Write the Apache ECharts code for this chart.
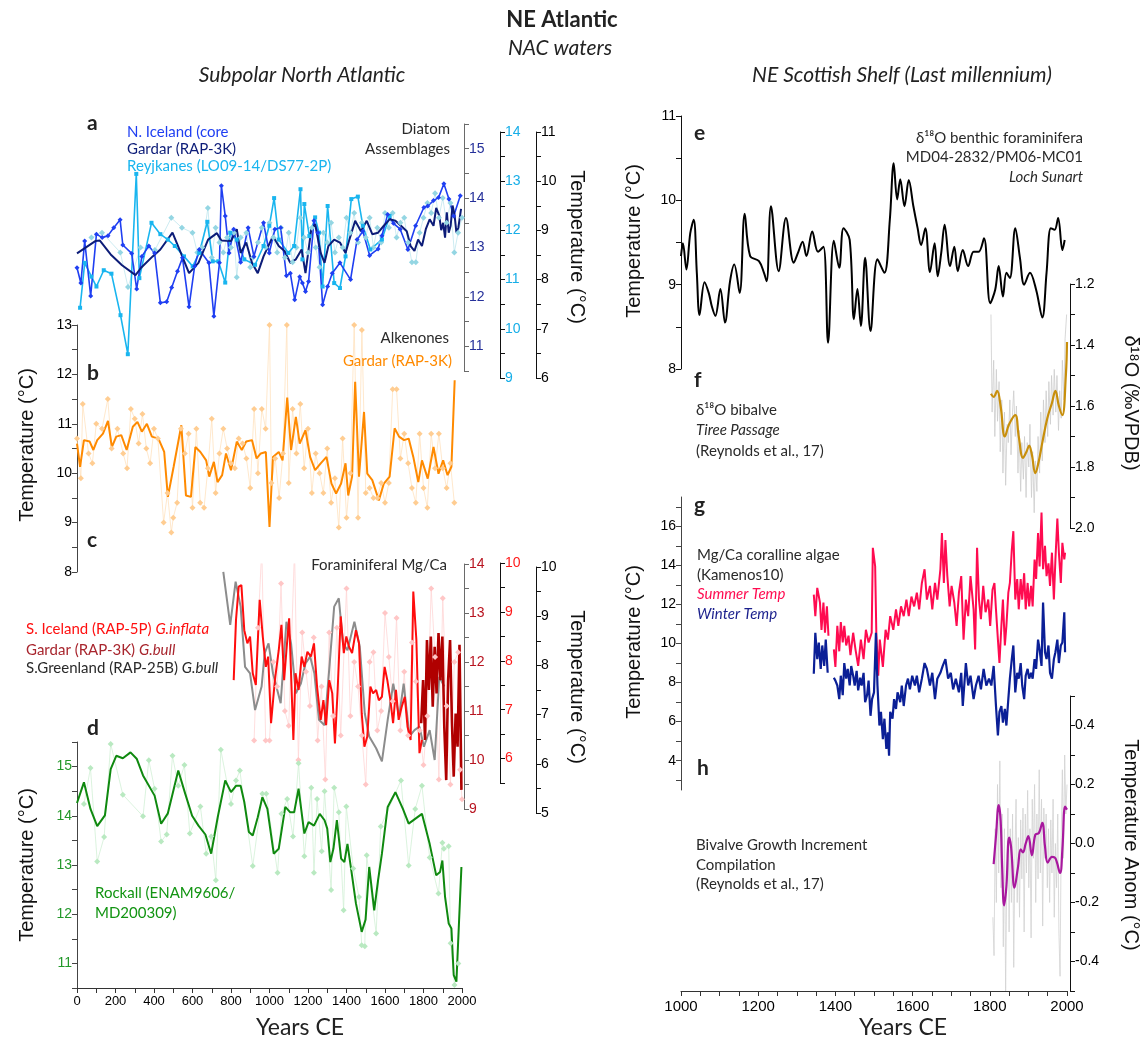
<!DOCTYPE html>
<html><head><meta charset="utf-8">
<script src="https://cdn.jsdelivr.net/npm/echarts@6.0.0/dist/echarts.min.js"></script>
<style>html,body{margin:0;padding:0;background:#fff}#c{width:1143px;height:1040px}</style>
</head><body><div id="c"></div>
<script>
// ---------------- DATA ----------------
// Panel a (Diatom assemblages), values on dark-blue axis (10.5-15.5)
const aGardar = [[0,12.88],[95,13.13],[119,13.14],[175,12.86],[234,12.64],[304,12.44],[333,12.59],[393,12.82],[433,12.96],[496,13.30],[532,12.96],[582,12.48],[631,12.69],[681,13.16],[727,13.29],[750,13.14],[800,13.13],[830,13.37],[850,12.89],[879,13.1],[909,12.69],[939,12.48],[969,12.82],[989,12.99],[1018,13.23],[1048,13.03],[1078,12.93],[1108,12.69],[1137,12.76],[1167,12.96],[1187,12.48],[1217,13.37],[1237,13.47],[1266,12.89],[1286,12.69],[1306,13.03],[1336,13.16],[1366,13.1],[1395,12.89],[1415,13.16],[1445,13.54],[1475,13.33],[1505,13.54],[1534,13.27],[1564,13.3],[1594,13.44],[1624,13.57],[1654,13.54],[1683,13.44],[1713,13.33],[1733,13.03],[1753,12.93],[1772,13.16],[1792,13.03],[1812,13.37],[1832,13.57],[1852,13.44],[1866,13.8],[1882,13.64],[1892,13.35],[1902,13.5],[1912,13.2],[1921,13.71],[1931,13.3],[1941,13.44],[1951,13.85],[1961,13.67],[1971,13.3],[1981,13.4],[1995,13.78]];
const aIceland = [[0,12.59],[20,12.28],[40,13.13],[71,12.02],[101,13.27],[131,13.2],[161,13.24],[191,13.4],[224,13.56],[238,13.05],[284,12.88],[310,12.16],[337,12.82],[373,13.03],[403,12.89],[433,11.88],[466,11.9],[492,12.19],[522,12.52],[548,12.79],[582,11.8],[611,12.62],[635,12.96],[685,12.69],[711,11.61],[740,12.69],[750,14.25],[770,13.64],[790,12.89],[814,13.37],[850,12.7],[889,13.4],[919,12.82],[969,13.5],[999,12.89],[1028,13.37],[1058,13.4],[1088,12.43],[1108,12.48],[1131,11.94],[1157,12.41],[1171,12.28],[1187,12.11],[1203,12.31],[1231,13.54],[1251,13.3],[1276,11.84],[1302,12.21],[1326,12.48],[1366,12.69],[1421,12.35],[1455,13.16],[1485,13.33],[1520,12.84],[1564,12.97],[1584,13.24],[1614,13.67],[1644,13.49],[1679,13.37],[1719,12.96],[1759,13.44],[1802,13.81],[1822,13.84],[1852,13.95],[1878,14.01],[1906,14.29],[1932,13.98],[1957,13.64],[1991,14.05]];
const aReykjanes = [[16,11.78],[40,12.69],[75,12.41],[101,12.21],[139,12.54],[179,12.47],[226,11.63],[264,10.84],[308,14.49],[324,12.38],[387,13.5],[433,13.27],[472,13.16],[508,13.03],[556,12.82],[601,12.62],[635,12.89],[677,13.52],[705,12.72],[734,12.72],[770,12.29],[796,13.3],[830,13.16],[869,12.76],[925,12.65],[969,13.03],[999,13.44],[1024,14.0],[1048,13.16],[1098,12.89],[1128,13.03],[1161,14.18],[1171,12.76],[1181,13.88],[1207,13.23],[1237,13.61],[1257,13.3],[1276,12.21],[1302,13.84],[1336,12.28],[1366,12.18],[1395,12.82],[1425,13.98],[1459,14.03],[1485,13.44],[1524,12.96],[1584,13.16],[1624,13.64]];
const aBackground = [[75,13.2],[130,13.3],[225,12.9],[265,12.2],[330,13.0],[405,12.95],[490,13.6],[545,13.4],[600,13.3],[625,12.9],[650,13.0],[680,13.8],[700,12.8],[720,13.4],[740,13.1],[760,12.9],[780,13.2],[800,13.0],[815,13.3],[830,12.4],[850,13.2],[880,13.3],[900,12.6],[915,12.8],[940,13.1],[960,13.4],[980,13.0],[1000,13.5],[1020,13.2],[1040,12.9],[1060,13.4],[1080,12.8],[1100,13.3],[1120,12.7],[1140,13.0],[1160,13.6],[1180,13.2],[1200,12.9],[1220,13.4],[1240,13.0],[1260,12.6],[1280,13.3],[1300,13.1],[1320,13.5],[1340,12.9],[1360,13.2],[1380,13.0],[1400,13.6],[1420,13.3],[1440,13.7],[1460,13.1],[1480,13.5],[1500,13.2],[1520,13.6],[1540,13.0],[1560,13.4],[1580,13.1],[1600,13.7],[1620,13.4],[1640,13.7],[1660,13.2],[1680,13.5],[1700,13.6],[1720,13.1],[1740,12.7],[1760,12.7],[1780,13.3],[1800,13.6],[1820,13.9],[1840,13.7],[1860,14.1],[1880,13.6],[1900,14.0],[1920,13.5],[1940,13.9],[1960,12.9],[1980,13.3],[2000,13.6]];

// Panel b (Alkenones, Gardar RAP-3K)
const bMain = [[0,10.6],[16,10.13],[36,10.67],[66,10.64],[85,10.47],[105,10.67],[135,10.8],[161,11.06],[181,10.53],[204,10.74],[230,10.77],[258,10.47],[290,10.94],[314,11.04],[337,10.84],[363,11.0],[389,10.74],[423,10.7],[453,10.43],[472,9.52],[502,10.13],[542,10.97],[566,9.55],[592,9.52],[615,10.53],[641,10.43],[671,10.26],[687,9.93],[711,10.23],[730,9.82],[754,9.96],[774,10.4],[800,10.06],[830,10.64],[856,10.47],[879,10.64],[909,10.67],[933,10.3],[955,10.4],[981,10.43],[1000,8.91],[1018,10.33],[1048,10.43],[1068,10.26],[1092,11.53],[1112,10.47],[1137,11.14],[1157,10.6],[1187,10.87],[1211,10.33],[1237,10.06],[1266,10.2],[1296,10.33],[1322,9.79],[1346,9.59],[1372,9.79],[1395,10.2],[1409,9.55],[1429,9.93],[1445,11.85],[1465,9.93],[1491,11.24],[1508,9.99],[1534,9.86],[1568,9.45],[1594,9.79],[1624,9.93],[1650,10.91],[1673,10.74],[1699,10.67],[1723,10.7],[1747,10.33],[1773,9.82],[1792,10.26],[1822,9.89],[1852,10.53],[1878,9.99],[1902,10.26],[1925,9.96],[1945,10.13],[1962,11.88]];
const bRaw = [[0,10.7],[20,9.9],[30,11.4],[60,10.4],[80,10.2],[100,11.0],[130,10.9],[160,11.5],[180,10.5],[210,10.9],[240,10.4],[260,10.1],[280,11.3],[300,11.1],[320,10.6],[340,11.2],[360,10.5],[380,10.2],[400,10.9],[420,10.7],[450,9.0],[470,9.6],[490,8.8],[500,9.1],[520,9.4],[540,10.9],[560,10.4],[580,10.8],[600,9.3],[620,10.9],[640,9.4],[660,9.3],[680,10.1],[700,11.1],[720,9.6],[740,10.4],[760,10.9],[780,10.5],[800,10.2],[820,10.1],[840,10.7],[860,10.6],[880,10.3],[900,9.7],[920,11.3],[940,10.0],[960,11.3],[980,10.9],[1000,13.0],[1010,9.8],[1030,10.3],[1050,9.5],[1070,10.4],[1090,13.0],[1100,9.8],[1120,11.3],[1140,10.4],[1160,11.4],[1180,10.1],[1200,10.9],[1220,9.6],[1240,10.4],[1260,10.0],[1280,9.6],[1300,10.5],[1320,9.4],[1340,9.9],[1360,8.9],[1380,10.7],[1400,9.1],[1420,10.0],[1440,13.0],[1460,9.1],[1480,12.9],[1500,9.6],[1520,9.7],[1540,9.5],[1560,9.5],[1580,9.8],[1600,9.4],[1620,9.8],[1640,11.7],[1660,11.7],[1680,10.3],[1700,10.8],[1720,10.2],[1740,9.7],[1760,9.4],[1780,10.8],[1800,9.7],[1820,9.3],[1840,10.8],[1860,10.1],[1880,10.8],[1900,10.1],[1920,9.7],[1940,10.2],[1960,9.4]];

// Panel c (Foraminiferal Mg/Ca), values on dark-red axis (9-14)
const cGreenland = [[760,13.84],[796,12.76],[824,13.64],[850,13.13],[873,11.9],[899,11.77],[925,11.02],[959,11.5],[975,12.18],[995,12.38],[1018,11.77],[1058,11.16],[1088,12.82],[1112,12.38],[1137,11.36],[1163,11.56],[1187,11.97],[1211,12.11],[1233,11.77],[1257,10.82],[1286,10.71],[1310,11.84],[1336,13.13],[1360,13.3],[1382,12.38],[1405,12.24],[1441,12.82],[1469,12.31],[1495,10.95],[1518,10.48],[1554,10.24],[1584,9.97],[1614,10.82],[1643,11.56],[1673,10.88],[1697,11.56],[1727,10.48],[1753,10.61],[1779,10.68],[1802,10.27],[1832,10.61],[1858,10.0],[1882,11.7],[1908,11.5]];
const cIceland = [[814,11.63],[826,12.86],[840,13.54],[854,13.57],[869,12.65],[885,12.38],[899,12.52],[913,11.77],[929,11.53],[949,13.27],[965,12.52],[981,11.9],[993,12.11],[1008,10.75],[1028,11.63],[1048,12.24],[1062,12.76],[1076,11.63],[1088,12.24],[1102,12.89],[1124,10.41],[1135,11.77],[1151,11.43],[1167,12.11],[1181,11.9],[1197,12.21],[1215,12.11],[1231,12.38],[1247,11.5],[1266,10.82],[1280,11.22],[1294,10.71],[1310,11.63],[1326,11.36],[1340,10.34],[1354,11.43],[1370,12.93],[1386,12.18],[1399,12.52],[1413,12.31],[1429,12.18],[1449,12.65],[1465,12.38],[1479,10.95],[1493,10.27],[1508,10.48],[1524,11.5],[1538,11.36],[1554,11.43],[1568,11.22],[1584,11.29],[1598,11.9],[1612,11.63],[1628,11.22],[1642,10.75],[1657,11.43],[1671,10.82],[1687,11.09],[1703,11.29],[1717,10.68],[1733,10.41],[1747,13.44],[1763,12.45],[1779,10.14],[1792,10.41]];
const cGardar = [[1788,10.75],[1798,11.63],[1808,10.41],[1818,12.45],[1828,11.43],[1838,12.52],[1848,11.09],[1858,12.31],[1868,11.36],[1878,12.59],[1888,11.63],[1898,12.52],[1908,10.68],[1918,9.59],[1928,11.63],[1938,12.45],[1948,10.75],[1957,9.66],[1967,10.95],[1977,10.27],[1987,12.35],[1997,9.39]];
const cRaw = [[920,10.4],[940,12.7],[960,14.3],[980,10.4],[1000,10.4],[1020,12.0],[1040,11.5],[1060,13.6],[1080,11.0],[1100,10.7],[1130,14.3],[1150,10.0],[1170,12.6],[1190,11.8],[1210,11.1],[1230,12.5],[1250,10.4],[1270,11.5],[1290,9.6],[1310,12.6],[1330,10.9],[1350,12.7],[1370,10.5],[1400,13.5],[1420,10.9],[1440,12.0],[1460,11.5],[1480,10.5],[1500,9.5],[1520,12.0],[1540,12.2],[1560,10.6],[1580,11.0],[1600,13.0],[1620,12.1],[1640,11.2],[1660,12.9],[1680,10.6],[1700,11.8],[1720,10.5],[1740,12.4],[1760,11.6],[1780,10.6],[1800,9.9],[1820,10.9],[1840,13.5],[1860,12.1],[1880,9.6],[1900,13.3],[1920,11.1],[1940,9.5],[1960,12.0],[1980,12.2],[1990,9.8],[2000,9.2]];

// Panel d (Rockall)
const dMain = [[0,14.26],[36,14.68],[70,14.14],[105,13.79],[145,14.01],[175,14.95],[204,15.22],[238,15.17],[278,15.29],[310,15.16],[343,14.82],[403,14.41],[437,13.84],[472,14.05],[526,14.92],[562,14.45],[598,14.0],[631,13.8],[667,13.62],[697,13.23],[731,13.97],[770,14.72],[800,14.48],[826,14.61],[850,14.61],[869,14.28],[893,13.67],[913,13.6],[939,13.97],[963,14.38],[989,14.14],[1022,13.23],[1048,13.33],[1082,14.18],[1108,14.07],[1128,14.07],[1151,14.55],[1181,13.64],[1203,13.87],[1231,13.8],[1261,14.04],[1286,13.91],[1300,13.74],[1316,13.06],[1332,13.33],[1350,13.91],[1372,13.13],[1389,13.06],[1405,13.43],[1425,12.89],[1449,12.22],[1479,11.64],[1499,11.89],[1518,12.96],[1544,12.08],[1564,12.69],[1584,13.23],[1614,14.18],[1654,14.48],[1693,14.14],[1723,13.84],[1792,14.04],[1832,13.43],[1866,12.79],[1886,12.86],[1898,13.09],[1912,12.35],[1931,11.81],[1945,11.71],[1957,10.76],[1971,10.63],[1997,12.96]];
const dRaw = [[36,14.24],[70,14.97],[105,13.07],[141,13.57],[175,15.46],[238,14.43],[343,13.99],[373,15.13],[403,14.55],[437,13.48],[466,13.62],[496,15.22],[526,14.61],[558,15.03],[586,13.64],[641,14.19],[671,13.23],[697,13.58],[721,12.69],[747,15.34],[800,14.24],[826,14.72],[846,14.92],[913,12.98],[963,14.45],[983,14.45],[1042,12.84],[1062,14.04],[1092,14.34],[1122,13.58],[1151,15.07],[1181,13.18],[1217,14.57],[1231,12.84],[1247,14.34],[1271,13.28],[1286,14.5],[1320,12.49],[1336,14.57],[1360,14.07],[1385,12.08],[1399,14.19],[1435,12.93],[1465,12.35],[1479,11.37],[1495,11.35],[1505,13.2],[1554,11.61],[1578,13.78],[1683,14.72],[1723,12.99],[1757,14.14],[1792,14.61],[1832,13.15],[1878,12.42],[1898,13.45],[1906,13.33],[1931,13.38],[1941,11.41],[1961,10.56],[1981,11.0]];

// Panel e (Loch Sunart benthic foraminifera)
const eMain = [[1000,9.34],[1005,9.49],[1014,9.18],[1024,9.61],[1033,9.77],[1041,9.14],[1048,8.64],[1061,9.03],[1072,8.9],[1080,8.74],[1089,8.63],[1102,8.95],[1114,8.55],[1127,9.04],[1138,9.24],[1152,8.9],[1165,9.84],[1179,9.34],[1202,9.28],[1215,9.14],[1222,9.04],[1233,9.93],[1253,9.16],[1272,9.79],[1292,9.26],[1304,9.39],[1315,9.51],[1325,9.34],[1340,9.63],[1355,9.39],[1369,9.45],[1381,8.31],[1396,9.52],[1410,9.2],[1421,9.67],[1437,9.53],[1448,8.59],[1457,8.95],[1466,8.51],[1477,9.32],[1491,8.45],[1509,9.3],[1527,9.14],[1541,9.77],[1551,10.44],[1560,10.01],[1568,10.25],[1579,9.93],[1590,10.24],[1602,9.93],[1613,9.67],[1622,9.47],[1633,9.67],[1645,9.15],[1657,9.49],[1665,9.1],[1674,9.37],[1683,9.71],[1697,9.22],[1708,9.45],[1717,9.16],[1730,9.41],[1744,9.22],[1758,9.39],[1771,9.39],[1785,9.55],[1801,8.78],[1814,8.94],[1823,9.22],[1834,8.86],[1843,9.14],[1852,9.08],[1866,9.67],[1878,9.32],[1889,9.0],[1904,9.14],[1920,8.94],[1936,8.61],[1947,9.14],[1958,9.67],[1968,9.65],[1977,9.79],[1988,9.41],[1994,9.53]];

// Panel f (δ18O bivalve, Tiree Passage)
const fSmooth = [[1803,1.56],[1810,1.57],[1819,1.55],[1828,1.60],[1839,1.70],[1850,1.66],[1866,1.63],[1875,1.70],[1886,1.77],[1895,1.75],[1902,1.73],[1909,1.76],[1918,1.82],[1927,1.78],[1936,1.72],[1949,1.64],[1961,1.59],[1970,1.55],[1979,1.60],[1988,1.63],[1997,1.50],[2000,1.39]];
const fRaw = [[1803,1.30],[1806,1.62],[1810,1.45],[1813,1.70],[1817,1.48],[1820,1.65],[1824,1.52],[1827,1.75],[1831,1.58],[1834,1.82],[1838,1.62],[1841,1.86],[1845,1.66],[1848,1.72],[1852,1.58],[1855,1.76],[1859,1.62],[1862,1.55],[1866,1.70],[1869,1.60],[1873,1.82],[1876,1.68],[1880,1.88],[1883,1.72],[1887,1.84],[1890,1.70],[1894,1.90],[1897,1.72],[1901,1.80],[1904,1.66],[1908,1.90],[1911,1.75],[1915,1.95],[1918,1.78],[1922,1.88],[1925,1.70],[1929,1.82],[1932,1.62],[1936,1.78],[1939,1.58],[1943,1.72],[1946,1.55],[1950,1.70],[1953,1.52],[1957,1.66],[1960,1.50],[1964,1.63],[1967,1.48],[1971,1.62],[1974,1.50],[1978,1.68],[1981,1.55],[1985,1.64],[1988,1.45],[1992,1.58],[1995,1.38],[1999,1.30]];

// Panel g (Mg/Ca coralline algae)
const gSummer = [[1344,12.5],[1348,11.4],[1353,12.85],[1360,12.1],[1364,10.7],[1369,12.1],[1373,10.55],[1378,11.9],[1382,10.4],[1389,'-'],[1396,9.7],[1400,8.8],[1405,10.9],[1410,9.6],[1414,11.1],[1419,10.05],[1423,10.9],[1428,9.9],[1434,10.4],[1439,9.4],[1446,10.55],[1452,9.7],[1459,8.85],[1466,10.2],[1473,9.2],[1479,10.7],[1486,10.05],[1494,10.55],[1497,14.9],[1503,13.95],[1506,10.55],[1511,8.35],[1515,10.2],[1523,8.8],[1530,10.7],[1536,10.2],[1542,11.4],[1550,10.7],[1557,11.75],[1563,10.9],[1570,11.9],[1577,11.4],[1584,12.25],[1590,11.4],[1597,12.4],[1604,11.9],[1611,12.6],[1617,11.75],[1624,13.1],[1631,13.8],[1637,12.25],[1645,12.95],[1651,11.75],[1658,13.1],[1664,12.25],[1672,13.8],[1676,15.65],[1681,13.1],[1685,15.3],[1690,13.45],[1696,11.9],[1701,12.95],[1708,12.1],[1714,10.9],[1720,12.6],[1726,13.45],[1732,10.2],[1738,12.25],[1744,11.4],[1750,13.45],[1758,11.75],[1762,9.7],[1767,14.9],[1772,12.25],[1777,11.25],[1783,12.95],[1789,11.6],[1796,12.25],[1801,10.9],[1807,12.75],[1812,13.1],[1816,11.75],[1821,10.2],[1825,9.0],[1830,10.9],[1834,12.25],[1839,9.9],[1843,10.9],[1848,12.6],[1852,13.1],[1857,14.8],[1861,15.75],[1866,12.25],[1871,13.3],[1875,11.75],[1880,13.3],[1884,12.25],[1889,13.6],[1893,11.75],[1898,13.1],[1902,11.9],[1907,12.95],[1911,11.9],[1916,14.3],[1920,13.3],[1925,15.65],[1929,13.95],[1934,16.7],[1938,13.8],[1943,15.0],[1947,13.45],[1952,14.1],[1956,12.95],[1961,14.65],[1966,12.25],[1970,14.3],[1975,16.4],[1979,14.65],[1984,13.1],[1988,15.15],[1993,14.3],[1995,14.65]];
const gWinter = [[1344,8.45],[1348,10.55],[1353,9.2],[1357,10.05],[1362,8.7],[1366,9.9],[1371,8.85],[1375,10.2],[1380,8.5],[1388,'-'],[1396,8.25],[1400,8.1],[1405,7.85],[1410,7.15],[1414,8.35],[1419,7.35],[1423,9.0],[1428,8.2],[1432,8.7],[1437,7.85],[1441,8.85],[1446,8.35],[1450,7.85],[1455,8.6],[1459,7.6],[1464,8.25],[1468,7.85],[1473,8.5],[1477,7.0],[1482,7.35],[1486,8.1],[1491,6.3],[1495,7.15],[1500,7.5],[1505,10.55],[1509,7.85],[1514,5.8],[1518,6.5],[1523,5.1],[1527,6.15],[1532,4.6],[1536,5.45],[1539,4.25],[1542,6.5],[1548,6.15],[1552,7.15],[1557,6.65],[1561,7.5],[1568,7.0],[1572,7.85],[1577,6.8],[1583,7.85],[1588,8.2],[1593,7.65],[1599,8.35],[1606,7.85],[1611,8.35],[1617,7.5],[1624,8.2],[1631,9.0],[1637,8.7],[1645,7.85],[1651,8.5],[1658,7.15],[1664,8.2],[1672,8.5],[1678,8.85],[1685,9.2],[1692,8.2],[1699,8.5],[1705,7.65],[1712,8.2],[1720,7.5],[1726,8.5],[1730,6.8],[1738,9.0],[1744,7.85],[1750,8.35],[1758,7.15],[1764,7.85],[1771,8.35],[1777,7.65],[1784,8.7],[1791,7.85],[1798,8.2],[1804,7.85],[1810,8.85],[1816,6.8],[1821,5.3],[1825,6.5],[1830,6.8],[1834,5.95],[1839,6.65],[1843,5.8],[1848,7.15],[1852,8.2],[1857,9.2],[1861,9.9],[1866,7.5],[1871,8.5],[1875,8.2],[1880,9.0],[1884,7.85],[1889,7.15],[1893,8.35],[1898,8.7],[1902,8.2],[1907,8.5],[1911,8.2],[1916,9.2],[1920,8.7],[1925,10.2],[1929,9.7],[1934,8.85],[1938,12.1],[1943,9.55],[1947,9.2],[1952,9.9],[1956,8.5],[1961,8.2],[1966,9.2],[1970,9.55],[1975,10.2],[1979,9.0],[1984,9.9],[1988,10.05],[1993,11.6],[1995,9.55]];

// Panel h (Bivalve growth increment compilation)
const hSmooth = [[1810,-0.07],[1816,0.025],[1823,0.13],[1828,0.08],[1832,-0.08],[1837,-0.21],[1843,-0.145],[1850,0.02],[1855,-0.01],[1864,-0.15],[1873,-0.08],[1880,-0.02],[1886,-0.03],[1893,0.0],[1900,0.025],[1909,-0.04],[1918,0.03],[1927,0.035],[1936,0.07],[1943,-0.01],[1950,-0.065],[1961,-0.045],[1970,-0.05],[1982,-0.1],[1988,-0.02],[1995,0.125],[2000,0.115]];
const hRaw = [[1808,-0.25],[1811,-0.38],[1814,0.05],[1817,-0.2],[1820,0.2],[1823,-0.1],[1826,0.28],[1829,-0.15],[1832,0.1],[1835,-0.35],[1838,0.05],[1841,-0.5],[1844,-0.1],[1847,0.12],[1850,-0.3],[1853,0.05],[1856,-0.2],[1859,0.1],[1862,-0.42],[1865,-0.05],[1868,0.15],[1871,-0.2],[1874,0.02],[1877,-0.25],[1880,0.08],[1883,-0.12],[1886,0.12],[1889,-0.3],[1892,0.1],[1895,-0.1],[1898,0.18],[1901,-0.15],[1904,0.05],[1907,-0.32],[1910,0.15],[1913,-0.05],[1916,0.2],[1919,-0.2],[1922,0.1],[1925,-0.12],[1928,0.25],[1931,-0.1],[1934,0.15],[1937,-0.28],[1940,0.12],[1943,-0.05],[1946,0.1],[1949,-0.15],[1952,0.05],[1955,-0.2],[1958,0.08],[1961,-0.1],[1964,0.15],[1967,-0.25],[1970,0.0],[1973,-0.15],[1976,0.1],[1979,-0.3],[1982,-0.45],[1985,0.02],[1988,0.25],[1991,-0.05],[1994,0.3],[1997,0.1],[2000,0.2]];

// Axis tick/label values
const leftYears = [0, 2000];
const rightYears = [1000, 2000];

// ---------------- BUILD ----------------
const chart = echarts.init(document.getElementById('c'), null, {renderer: 'canvas'});
const grids = [], xAxes = [], yAxes = [], series = [];
const LEFT = {left: 77, width: 385};
const RIGHT = {left: 681, width: 386};
function range(a, b, s) { const out = []; for (let v = a; v <= b + 1e-9; v += s) out.push(Math.round(v * 100) / 100); return out; }

function addGrid(col, top, height, xopt, yopt) {
  grids.push({left: col.left, width: col.width, top: top, height: height, containLabel: false, outerBoundsMode: 'none'});
  const i = grids.length - 1;
  xAxes.push(Object.assign({type: 'value', gridIndex: i, show: false}, xopt));
  yAxes.push(Object.assign({type: 'value', gridIndex: i}, yopt));
  return i;
}
function yAx(o) {
  const lc = o.line || '#000';
  return {
    position: o.pos, offset: o.offset || 0, min: o.min, max: o.max, inverse: !!o.inverse,
    axisLine: {show: true, onZero: false, lineStyle: {color: lc, width: 1}},
    axisTick: {show: true, length: 5, customValues: o.ticks, lineStyle: {color: lc, width: 1}},
    axisLabel: {show: true, customValues: o.labels, color: o.color || '#000', fontSize: 14,
      fontFamily: 'Liberation Sans, Arial, sans-serif', margin: 5,
      formatter: o.fmt || (v => String(Math.round(v)))},
    splitLine: {show: false}, minorTick: {show: false}
  };
}
const xHiddenL = {min: leftYears[0], max: leftYears[1]};
const xHiddenR = {min: rightYears[0], max: rightYears[1]};

// grids
const gA1 = addGrid(LEFT, 124, 247, xHiddenL, yAx({pos: 'right', offset: 2, min: 10.5, max: 15.5, ticks: range(10.5, 15.5, 0.5), labels: range(11, 15, 1), color: '#25309a', line: '#6a6a6a'}));
const gA2 = addGrid(LEFT, 132, 246, xHiddenL, yAx({pos: 'right', offset: 38, min: 9, max: 14, ticks: range(9, 14, 0.5), labels: range(9, 14, 1), color: '#16aee8', line: '#111'}));
const gA3 = addGrid(LEFT, 132, 246, xHiddenL, yAx({pos: 'right', offset: 74, min: 6, max: 11, ticks: range(6, 11, 0.5), labels: range(6, 11, 1), color: '#000', line: '#111'}));
const gB = addGrid(LEFT, 325, 247, xHiddenL, yAx({pos: 'left', min: 8, max: 13, ticks: range(8, 13, 0.5), labels: range(8, 13, 1), color: '#000', line: '#444'}));
const gC1 = addGrid(LEFT, 564, 245, xHiddenL, yAx({pos: 'right', offset: 2, min: 9, max: 14, ticks: range(9, 14, 0.5), labels: range(9, 14, 1), color: '#b81420', line: '#6a6a6a'}));
const gC2 = addGrid(LEFT, 563, 220, xHiddenL, yAx({pos: 'right', offset: 38, min: 5.5, max: 10, ticks: range(5.5, 10, 0.5), labels: range(6, 10, 1), color: '#ff1a1a', line: '#111'}));
const gC3 = addGrid(LEFT, 567, 246, xHiddenL, yAx({pos: 'right', offset: 74, min: 5, max: 10, ticks: range(5, 10, 0.5), labels: range(5, 10, 1), color: '#000', line: '#111'}));
const gD = addGrid(LEFT, 742, 246, {
  show: true, min: leftYears[0], max: leftYears[1], interval: 100,
  axisLine: {show: true, onZero: false, lineStyle: {color: '#333'}},
  axisTick: {show: true, length: 5, lineStyle: {color: '#333'}},
  axisLabel: {color: '#000', fontSize: 13, fontFamily: 'Liberation Sans, Arial, sans-serif', margin: 7, formatter: v => (v % 200 === 0 ? String(v) : '')},
  splitLine: {show: false}
}, yAx({pos: 'left', min: 10.5, max: 15.5, ticks: range(10.5, 15.5, 0.5), labels: range(11, 15, 1), color: '#23982a', line: '#444'}));
const gE = addGrid(RIGHT, 116, 253, xHiddenR, yAx({pos: 'left', min: 8, max: 11, ticks: range(8, 11, 0.5), labels: range(8, 11, 1), color: '#000', line: '#111'}));
const gF = addGrid(RIGHT, 284, 244, xHiddenR, yAx({pos: 'right', offset: 3, min: 1.2, max: 2.0, inverse: true, ticks: range(1.2, 2.0, 0.1), labels: range(1.2, 2.0, 0.2), color: '#000', line: '#111', fmt: v => v.toFixed(1)}));
const gG = addGrid(RIGHT, 497, 293, xHiddenR, yAx({pos: 'left', min: 2.5, max: 17.5, ticks: range(3, 17, 1), labels: range(4, 16, 2), color: '#000', line: '#444'}));
const gH = addGrid(RIGHT, 696, 295, {
  show: true, min: rightYears[0], max: rightYears[1], interval: 50,
  axisLine: {show: true, onZero: false, lineStyle: {color: '#333'}},
  axisTick: {show: true, length: 5, lineStyle: {color: '#333'}},
  axisLabel: {color: '#000', fontSize: 15, fontFamily: 'Liberation Sans, Arial, sans-serif', margin: 8, formatter: v => (v % 200 === 0 ? String(v) : '')},
  splitLine: {show: false}
}, yAx({pos: 'right', offset: 3, min: -0.5, max: 0.5, ticks: range(-0.5, 0.5, 0.1), labels: [-0.4, -0.2, 0, 0.2, 0.4], color: '#000', line: '#111', fmt: v => (Math.abs(v) < 1e-9 ? '0.0' : v.toFixed(1))}));

function line(gi, data, color, width, extra) {
  return Object.assign({
    type: 'line', xAxisIndex: gi, yAxisIndex: gi, data: data,
    symbol: 'none', showSymbol: false, lineStyle: {color: color, width: width}, itemStyle: {color: color},
    animation: false, silent: true, clip: true, connectNulls: false
  }, extra || {});
}
function marked(sym, size, mcolor) { return {symbol: sym, symbolSize: size, showSymbol: true, showAllSymbol: true, itemStyle: {color: mcolor, borderWidth: 0}}; }

// a
series.push(line(gA1, aBackground, '#bfe6ee', 0.8, marked('diamond', 6, '#94d6e3')));
series.push(line(gA1, aReykjanes, '#19b5ef', 1.6, marked('rect', 4, '#19b5ef')));
series.push(line(gA1, aIceland, '#1f3ff2', 1.6, marked('diamond', 5, '#1f3ff2')));
series.push(line(gA1, aGardar, '#0c1c78', 2));
// b
series.push(line(gB, bRaw, '#ffe2bf', 0.8, marked('diamond', 6, '#ffcd92')));
series.push(line(gB, bMain, '#ff8a00', 2));
// c
series.push(line(gC1, cRaw, '#ffd6d6', 0.8, marked('diamond', 6, '#ffc6c6')));
series.push(line(gC1, cGreenland, '#8c8c8c', 2));
series.push(line(gC1, cIceland, '#ff0d0d', 2));
series.push(line(gC1, cGardar, '#b00000', 2.6));
// d
series.push(line(gD, dRaw, '#d2f0d6', 0.8, marked('diamond', 6, '#b9e9c1')));
series.push(line(gD, dMain, '#0f890f', 2));
// e
series.push(line(gE, eMain, '#000', 2, {smooth: 0.35}));
// f
series.push(line(gF, fRaw, '#cdcdcd', 0.8));
series.push(line(gF, fSmooth, '#c88f0c', 2.2, {smooth: 0.4}));
// g
series.push(line(gG, gSummer, '#ff0b50', 2));
series.push(line(gG, gWinter, '#0b1f96', 2.2));
// h
series.push(line(gH, hRaw, '#d2d2d2', 0.8));
series.push(line(gH, hSmooth, '#a8189e', 2.2, {smooth: 0.4}));

// ---------------- TEXT ----------------
const FT = 'Lato, "Open Sans", sans-serif';
const FA = '"Liberation Sans", Arial, sans-serif';
function txt(text, x, y, o) {
  o = o || {};
  return {type: 'text', x: x, y: y, rotation: o.rot || 0, silent: true, z: 100,
    style: {text: text, fill: o.color || '#2a2a2a', font: o.font || ('15px ' + FT),
      textAlign: o.align || 'left', textVerticalAlign: 'middle', align: o.align || 'left', verticalAlign: 'middle', rich: o.rich}};
}
function richItalic(color) { return {i: {fontStyle: 'italic', fontSize: 15, fontFamily: 'Lato', fill: color, color: color}}; }
const graphics = [
  txt('NE Atlantic', 562, 20, {font: 'bold 22px ' + FT, color: '#222', align: 'center'}),
  txt('NAC waters', 560, 48, {font: 'italic 21px ' + FT, color: '#222', align: 'center'}),
  txt('Subpolar North Atlantic', 302, 75, {font: 'italic 21px ' + FT, color: '#222', align: 'center'}),
  txt('NE Scottish Shelf (Last millennium)', 902, 75, {font: 'italic 21px ' + FT, color: '#222', align: 'center'}),
  // panel letters
  txt('a', 87, 123, {font: 'bold 21px ' + FT, color: '#222'}),
  txt('b', 87, 373, {font: 'bold 21px ' + FT, color: '#222'}),
  txt('c', 87, 540, {font: 'bold 21px ' + FT, color: '#222'}),
  txt('d', 87, 728, {font: 'bold 21px ' + FT, color: '#222'}),
  txt('e', 694, 133, {font: 'bold 21px ' + FT, color: '#222'}),
  txt('f', 694, 380, {font: 'bold 21px ' + FT, color: '#222'}),
  txt('g', 694, 505, {font: 'bold 21px ' + FT, color: '#222'}),
  txt('h', 697, 768, {font: 'bold 21px ' + FT, color: '#222'}),
  // panel a
  txt('N. Iceland (core', 127, 132, {color: '#1f3ff2'}),
  txt('Gardar (RAP-3K)', 127, 149, {color: '#0c1c78'}),
  txt('Reyjkanes (LO09-14/DS77-2P)', 127, 166, {color: '#19b5ef'}),
  txt('Diatom', 450, 129, {align: 'right'}),
  txt('Assemblages', 450, 149, {align: 'right'}),
  // panel b
  txt('Alkenones', 449, 338, {align: 'right'}),
  txt('Gardar (RAP-3K)', 452, 361, {align: 'right', color: '#ff8a00'}),
  // panel c
  txt('Foraminiferal Mg/Ca', 447, 565, {align: 'right'}),
  txt('S. Iceland (RAP-5P) {i|G.inflata}', 26, 629, {color: '#ff1010', rich: richItalic('#ff1010')}),
  txt('Gardar (RAP-3K) {i|G.bull}', 26, 650, {color: '#a8262e', rich: richItalic('#a8262e')}),
  txt('S.Greenland (RAP-25B) {i|G.bull}', 26, 668, {color: '#2a2a2a', rich: richItalic('#2a2a2a')}),
  // panel d
  txt('Rockall (ENAM9606/', 95, 893, {color: '#129412'}),
  txt('MD200309)', 95, 913, {color: '#129412'}),
  // panel e
  txt('δ¹⁸O benthic foraminifera', 1083, 138, {align: 'right'}),
  txt('MD04-2832/PM06-MC01', 1083, 157, {align: 'right'}),
  txt('Loch Sunart', 1083, 177, {align: 'right', font: 'italic 15px ' + FT}),
  // panel f
  txt('δ¹⁸O bibalve', 696, 410),
  txt('Tiree Passage', 696, 430, {font: 'italic 15px ' + FT}),
  txt('(Reynolds et al., 17)', 696, 451),
  // panel g
  txt('Mg/Ca coralline algae', 697, 555),
  txt('(Kamenos10)', 697, 575),
  txt('Summer Temp', 697, 594, {font: 'italic 15px ' + FT, color: '#ff0b50'}),
  txt('Winter Temp', 697, 614, {font: 'italic 15px ' + FT, color: '#1a1f8c'}),
  // panel h
  txt('Bivalve Growth Increment', 696, 845),
  txt('Compilation', 696, 865),
  txt('(Reynolds et al., 17)', 696, 884),
  // axis titles
  txt('Temperature (°C)', 577, 247, {rot: -Math.PI / 2, align: 'center', font: '20px ' + FA, color: '#111'}),
  txt('Temperature (°C)', 27, 445, {rot: Math.PI / 2, align: 'center', font: '20px ' + FA, color: '#111'}),
  txt('Temperature (°C)', 577, 687, {rot: -Math.PI / 2, align: 'center', font: '20px ' + FA, color: '#111'}),
  txt('Temperature (°C)', 27, 865, {rot: Math.PI / 2, align: 'center', font: '20px ' + FA, color: '#111'}),
  txt('Years CE', 300, 1028, {align: 'center', font: '23px ' + FT, color: '#222'}),
  txt('Temperature (°C)', 634, 241, {rot: Math.PI / 2, align: 'center', font: '20px ' + FA, color: '#111'}),
  txt('δ¹⁸O (‰VPDB)', 1131, 403, {rot: -Math.PI / 2, align: 'center', font: '20px ' + FA, color: '#111'}),
  txt('Temperature (°C)', 634, 642, {rot: Math.PI / 2, align: 'center', font: '20px ' + FA, color: '#111'}),
  txt('Temperature Anom (°C)', 1131, 845, {rot: -Math.PI / 2, align: 'center', font: '20px ' + FA, color: '#111'}),
  txt('Years CE', 903, 1028, {align: 'center', font: '23px ' + FT, color: '#222'})
];

chart.setOption({
  animation: false,
  backgroundColor: '#fff',
  grid: grids, xAxis: xAxes, yAxis: yAxes, series: series,
  graphic: {elements: graphics}
});
</script></body></html>
